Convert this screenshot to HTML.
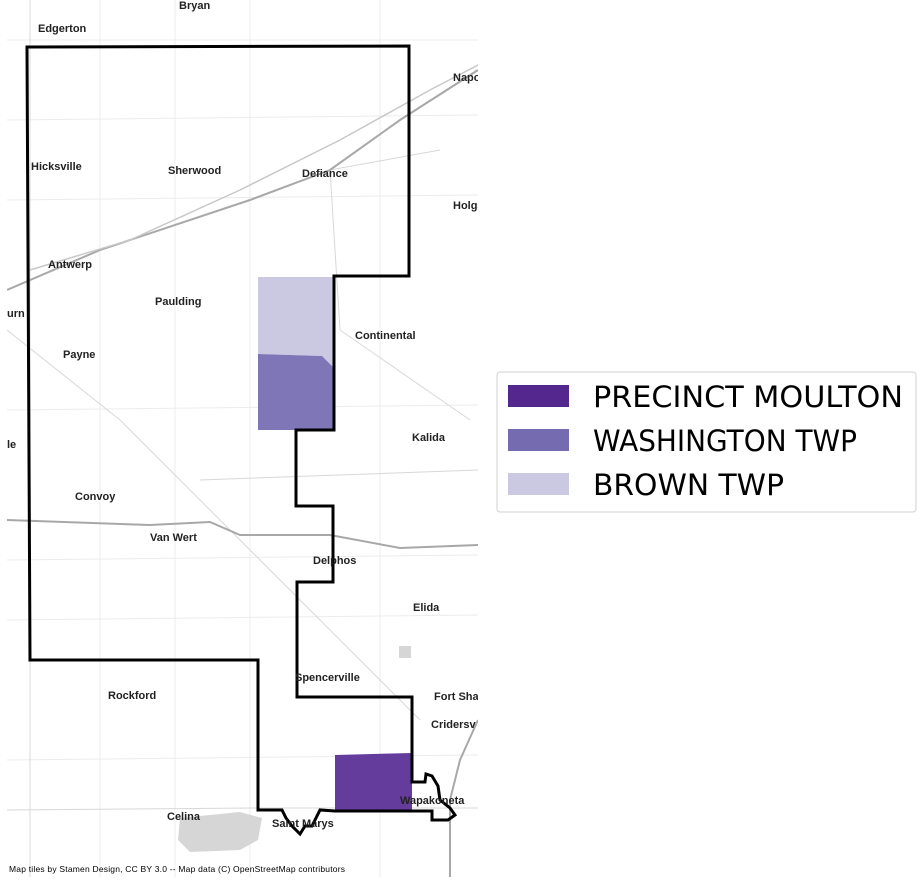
<!DOCTYPE html>
<html><head><meta charset="utf-8"><style>
body{margin:0;width:922px;height:884px;background:#fff;overflow:hidden;font-family:"DejaVu Sans","Liberation Sans",sans-serif}
.t{font-family:"Liberation Sans",sans-serif;font-size:11px;font-weight:bold;fill:#222}
</style></head><body>
<svg width="922" height="884">
<defs><clipPath id="mc"><rect x="7" y="0" width="471" height="877"/></clipPath></defs>
<g clip-path="url(#mc)">
<g>
<rect x="7" y="0" width="471" height="877" fill="#fff"/>
<g stroke="#ececec" stroke-width="1" fill="none">
<line x1="7" y1="40" x2="478" y2="40"/><line x1="7" y1="120" x2="478" y2="115"/><line x1="7" y1="200" x2="478" y2="195"/>
<line x1="7" y1="410" x2="478" y2="405"/><line x1="7" y1="560" x2="478" y2="555"/><line x1="7" y1="760" x2="478" y2="755"/>
<line x1="100" y1="0" x2="100" y2="877"/><line x1="175" y1="0" x2="175" y2="877"/><line x1="250" y1="0" x2="250" y2="877"/>
<line x1="380" y1="0" x2="380" y2="877"/><line x1="7" y1="620" x2="478" y2="615"/>
</g>
<g stroke="#d8d8d8" stroke-width="1" fill="none">
<path d="M7,330 L120,420 L300,600 L420,720"/><path d="M30,0 L30,877"/><path d="M440,150 L330,170 L340,330 L470,420"/>
<path d="M7,810 L260,808 L478,808"/><path d="M200,480 L478,470"/>
</g>
<path d="M7,290 L100,250 L250,200 L330,170 L400,120 L478,70" stroke="#a8a8a8" stroke-width="2" fill="none"/>
<path d="M30,270 L130,240 L240,190 L340,140 L430,90 L478,65" stroke="#c8c8c8" stroke-width="1.5" fill="none"/>
<path d="M7,520 L150,525 L210,522 L240,535 L330,535 L400,548 L478,545" stroke="#a8a8a8" stroke-width="2" fill="none"/>
<path d="M478,720 L460,760 L450,800 L450,877" stroke="#a8a8a8" stroke-width="2" fill="none"/>
<rect x="399" y="646" width="12" height="12" fill="#d6d6d6"/>
<path d="M180,818 L240,812 L262,818 L258,840 L240,850 L190,852 L178,840 Z" fill="#d6d6d6"/>
</g>
<g>
<path d="M258,277 L334,277 L334,368 L322,356 L258,354 Z" fill="#cbc9e2"/>
<path d="M258,354 L322,356 L334,368 L334,430 L258,430 Z" fill="#7f76b8"/>
<path d="M335,755 L412,753 L412,811 L335,811 Z" fill="#643c9c"/>
</g>
<path d="M27,47 L409,46 L409,276 L334,276 L334,430 L296,430 L296,506 L333,506 L333,582 L297,582 L297,697 L412,697 L412,782 L425,782 L426,774 L432,776 L438,786 L440,800 L450,808 L455,815 L448,820 L432,820 L432,811 L335,811 L320,810 L316,818 L312,826 L305,826 L300,834 L292,826 L286,818 L282,810 L258,810 L258,660 L30,660 Z" fill="none" stroke="#000" stroke-width="3"/>
<g>
<text class="t" x="38" y="32">Edgerton</text><text class="t" x="179" y="9">Bryan</text><text class="t" x="453" y="81">Napo</text>
<text class="t" x="31" y="170">Hicksville</text><text class="t" x="168" y="174">Sherwood</text><text class="t" x="302" y="177">Defiance</text>
<text class="t" x="453" y="209">Holga</text><text class="t" x="48" y="268">Antwerp</text><text class="t" x="155" y="305">Paulding</text>
<text class="t" x="7" y="317">urn</text><text class="t" x="355" y="339">Continental</text><text class="t" x="63" y="358">Payne</text>
<text class="t" x="412" y="441">Kalida</text><text class="t" x="7" y="448">le</text><text class="t" x="75" y="500">Convoy</text>
<text class="t" x="150" y="541">Van Wert</text><text class="t" x="313" y="564">Delphos</text><text class="t" x="413" y="611">Elida</text>
<text class="t" x="295" y="681">Spencerville</text><text class="t" x="434" y="700">Fort Sha</text><text class="t" x="108" y="699">Rockford</text>
<text class="t" x="431" y="728">Cridersv</text><text class="t" x="400" y="804">Wapakoneta</text><text class="t" x="167" y="820">Celina</text>
<text class="t" x="272" y="827">Saint Marys</text>
<text x="9" y="872" font-family="Liberation Sans,sans-serif" font-size="8.5" fill="#000" textLength="336">Map tiles by Stamen Design, CC BY 3.0 -- Map data (C) OpenStreetMap contributors</text>
</g>
</g>
<g>
<rect x="497" y="372" width="419" height="140" rx="3" fill="#fff" stroke="#d0d0d0"/>
<rect x="508" y="385" width="61" height="22" fill="#54278f"/>
<text x="593" y="407" font-size="29" fill="#000" textLength="310" lengthAdjust="spacingAndGlyphs">PRECINCT MOULTON</text>
<rect x="508" y="429" width="61" height="22" fill="#756bb1"/>
<text x="593" y="451" font-size="29" fill="#000" textLength="264" lengthAdjust="spacingAndGlyphs">WASHINGTON TWP</text>
<rect x="508" y="473" width="61" height="22" fill="#cbc9e2"/>
<text x="593" y="495" font-size="29" fill="#000" textLength="191" lengthAdjust="spacingAndGlyphs">BROWN TWP</text>
</g>
</svg>
</body></html>
